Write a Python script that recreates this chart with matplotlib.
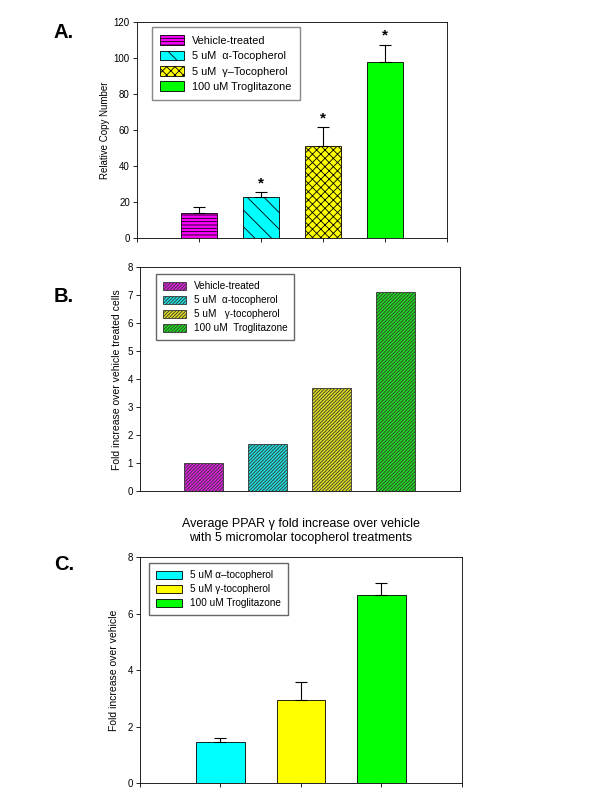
import numpy as np
import matplotlib
matplotlib.use("Agg")
from matplotlib import pyplot as plt

plt.rcParams['font.family'] = ['Liberation Sans', 'DejaVu Sans']
plt.rcParams['hatch.linewidth'] = 0.6

# panel A
a_labels = ['Vehicle-treated', '5 uM  \u03b1-Tocopherol', '5 uM  \u03b3\u2013Tocopherol', '100 uM Troglitazone']
a_vals = [14, 23, 51, 98]
a_err = [3.2, 2.5, 10.5, 9.5]
a_star = [False, True, True, True]
a_colors = ['#ff00ff', '#00ffff', '#ffff00', '#00ff00']
a_hatch = ['-----', '\\\\', 'xxxx', None]

# panel B
b_labels = ['Vehicle-treated', '5 uM  \u03b1-tocopherol', '5 uM   \u03b3-tocopherol', '100 uM  Troglitazone']
b_vals = [1.0, 1.68, 3.68, 7.1]
b_colors = ['#e020e0', '#20e0e0', '#e0e020', '#20e020']

# panel C
c_labels = ['5 uM \u03b1\u2013tocopherol', '5 uM \u03b3-tocopherol', '100 uM Troglitazone']
c_vals = [1.45, 2.95, 6.65]
c_err = [0.15, 0.65, 0.45]
c_colors = ['#00ffff', '#ffff00', '#00ff00']

fig = plt.figure(figsize=(6, 8), dpi=100)

def style(ax):
    ax.tick_params(labelsize=7, direction='out', length=3, width=0.6, pad=2)
    for s in ax.spines.values():
        s.set_linewidth(0.6)

# A
ax = fig.add_axes([0.228, 0.7025, 0.517, 0.27])
x = np.arange(1, 5)
for i in range(4):
    ax.bar(x[i], a_vals[i], 0.58, color=a_colors[i], edgecolor='black', linewidth=0.6,
           hatch=a_hatch[i], label=a_labels[i],
           yerr=[[0], [a_err[i]]], capsize=4, error_kw=dict(elinewidth=0.8, capthick=0.8))
    if a_star[i]:
        ax.text(x[i], a_vals[i] + a_err[i] + 5, '*', ha='center', va='center', fontsize=11, fontweight='bold')
ax.set_xlim(0, 5)
ax.set_ylim(0, 120)
ax.set_yticks(np.arange(0, 121, 20))
ax.set_xticks(np.arange(0, 6))
ax.set_xticklabels([])
ax.set_ylabel('Relative Copy Number', fontsize=7, labelpad=3)
style(ax)
ax.legend(loc='upper left', bbox_to_anchor=(0.048, 0.977), borderaxespad=0, fontsize=7.8,
          fancybox=False, edgecolor='#888888', framealpha=1, handlelength=2.2, handleheight=1.0,
          labelspacing=0.45, borderpad=0.75)
fig.text(0.09, 0.959, 'A.', fontsize=14.5, fontweight='bold', ha='left', va='center')

# B
ax = fig.add_axes([0.233, 0.386, 0.533, 0.28])
for i in range(4):
    ax.bar(x[i], b_vals[i], 0.61, color=b_colors[i], edgecolor='#333333', linewidth=0.6,
           hatch='//////////', label=b_labels[i])
ax.set_xlim(0, 5)
ax.set_ylim(0, 8)
ax.set_yticks(np.arange(0, 9, 1))
ax.set_xticks([])
ax.set_ylabel('Fold increase over vehicle treated cells', fontsize=7.5, labelpad=4)
style(ax)
ax.legend(loc='upper left', bbox_to_anchor=(0.05, 0.969), borderaxespad=0, fontsize=7.2,
          fancybox=False, edgecolor='#666666', framealpha=1, handlelength=2.3, handleheight=0.9,
          labelspacing=0.4, borderpad=0.7)
fig.text(0.09, 0.63, 'B.', fontsize=14.5, fontweight='bold', ha='left', va='center')

# C
ax = fig.add_axes([0.233, 0.021, 0.537, 0.2825])
xc = np.arange(1, 4)
for i in range(3):
    ax.bar(xc[i], c_vals[i], 0.6, color=c_colors[i], edgecolor='black', linewidth=0.6,
           label=c_labels[i],
           yerr=[[0], [c_err[i]]], capsize=4, error_kw=dict(elinewidth=0.8, capthick=0.8))
ax.set_xlim(0, 4)
ax.set_ylim(0, 8)
ax.set_yticks(np.arange(0, 9, 2))
ax.set_xticks(np.arange(0, 5))
ax.set_xticklabels([])
ax.set_ylabel('Fold increase over vehicle', fontsize=7.5, labelpad=6)
style(ax)
ax.legend(loc='upper left', bbox_to_anchor=(0.028, 0.973), borderaxespad=0, fontsize=7.2,
          fancybox=False, edgecolor='#666666', framealpha=1, handlelength=2.6, handleheight=0.9,
          labelspacing=0.4, borderpad=0.7)
ax.set_title('Average PPAR \u03b3 fold increase over vehicle\nwith 5 micromolar tocopherol treatments',
             fontsize=9, pad=12)
fig.text(0.09, 0.294, 'C.', fontsize=14.5, fontweight='bold', ha='left', va='center')

fig.savefig('out.png', dpi=100)
